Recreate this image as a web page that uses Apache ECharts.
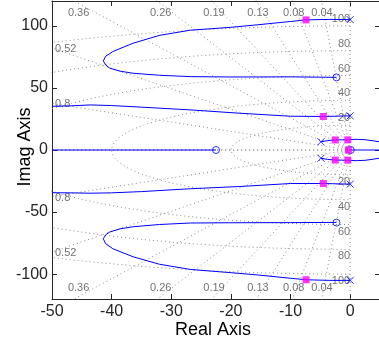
<!DOCTYPE html>
<html>
<head>
<meta charset="utf-8">
<script src="https://cdn.jsdelivr.net/npm/echarts@6/dist/echarts.min.js"></script>
<style>
  html, body { margin: 0; padding: 0; background: #fff; }
  #chart { width: 379px; height: 342px; }
</style>
</head>
<body>
<div id="chart"></div>
<script>
// axis ranges and tick labels
var xMin = -50, xMax = 5, yMin = -120, yMax = 120
var yTicks = [-100, -50, 0, 50, 100]

// sgrid: damping ratios and natural frequencies
var zetas = [0.04, 0.08, 0.13, 0.19, 0.26, 0.36, 0.52, 0.8]
var wns = [20, 40, 60, 80, 100]

// root locus branches (real part / imaginary part)
var upperLoopRe = [0, -3.4, -7.4, -10, -15.6, -20, -26.8, -32, -36.4, -39.8, -41, -41.4, -41, -40.3, -38.6, -36.4, -32, -26.8, -20, -10, -2.3]
var upperLoopIm = [105, 105.2, 104.8, 103.5, 100.8, 98.8, 96.5, 92.3, 86, 79.3, 75.5, 71.8, 68.5, 65.9, 63.5, 61.8, 60.2, 59.1, 58.8, 58.9, 58.5]
var lowerLoopRe = [0, -3.4, -7.4, -10, -15.6, -20, -26.8, -32, -36.4, -39.8, -41, -41.4, -41, -40.3, -38.6, -36.4, -32, -26.8, -20, -10, -2.3]
var lowerLoopIm = [-105, -105, -104.5, -103.3, -100.6, -98.8, -96.2, -92, -86, -79.5, -75.5, -71.5, -68.3, -66, -63.5, -61.8, -60, -58.8, -58.6, -58.5, -58.3]

var upperMidRe = [0, -4.5, -10, -18.5, -26.8, -35, -40, -43.6, -47, -50]
var upperMidIm = [27.5, 27, 27.2, 29.6, 32.3, 34.5, 35.8, 36.3, 35.5, 35.2]
var lowerMidRe = [0, -4.5, -10, -18.5, -26.8, -35, -40, -43.6, -47, -50]
var lowerMidIm = [-27.5, -27, -27, -29.4, -31.2, -33.5, -34.5, -34.8, -34.5, -34.4]

var upperInnerRe = [-4.9, -3.8, -2.5, -1.4, -0.4, 1, 2.5, 4, 5]
var upperInnerIm = [6.6, 7.6, 8.1, 8.2, 8.2, 8.6, 8.3, 7.3, 6.5]
var lowerInnerRe = [-4.9, -3.8, -2.5, -1.4, -0.4, 1, 2.5, 4, 5]
var lowerInnerIm = [-6.6, -7.6, -8.1, -8.2, -8.2, -8.6, -8.3, -7.3, -6.5]

var realLeftRe = [-50, -22.5]
var realLeftIm = [0, 0]
var realRightRe = [0, 5]
var realRightIm = [0, 0]

// open-loop poles (x), zeros (o), closed-loop poles (squares)
var poleRe = [0, 0, 0, 0, -4.9, -4.9]
var poleIm = [105, -105, 27.5, -27.5, 6.6, -6.6]
var zeroRe = [-22.5, -2.3, -2.3, 0.1]
var zeroIm = [0, 58.5, -58.5, 0]
var clRe = [-7.4, -7.4, -4.5, -4.5, -2.5, -2.5, -0.4, -0.4, -0.3]
var clIm = [104.8, -104.5, 27, -27, 8.1, -8.1, 8.2, -8.2, 0]

function pairs(re, im) {
  return re.map(function (v, i) { return [v, im[i]] })
}

var FONT = '"Liberation Sans", Arial, Helvetica, sans-serif'
var BLUE = '#0000ff'
var GRID_GRAY = '#8a8a8a'
var dotted = { color: GRID_GRAY, width: 1, type: [1, 3] }

var series = []

// damping rays, clipped by the grid
zetas.concat([1]).forEach(function (z) {
  var s = Math.sqrt(1 - z * z)
  var r = 400
  ;[1, -1].forEach(function (sign) {
    series.push({
      type: 'line', silent: true, symbol: 'none', z: 1,
      lineStyle: dotted,
      data: [[0, 0], [-z * r, sign * s * r]]
    })
  })
})
// imaginary axis
series.push({
  type: 'line', silent: true, symbol: 'none', z: 1, lineStyle: dotted,
  data: [[0, yMin], [0, yMax]]
})
// natural frequency arcs
wns.forEach(function (w) {
  var pts = []
  for (var a = 90; a <= 270; a += 1) {
    var t = a * Math.PI / 180
    pts.push([w * Math.cos(t), w * Math.sin(t)])
  }
  series.push({
    type: 'line', silent: true, symbol: 'none', z: 1, lineStyle: dotted, data: pts
  })
})

// grid labels
var gridLabels = []
zetas.forEach(function (z) {
  var slope = Math.sqrt(1 - z * z) / z
  var xTop = -118 / slope
  ;[1, -1].forEach(function (sign) {
    if (xTop > xMin) {
      gridLabels.push({
        name: String(z), value: [xTop, sign * 118],
        label: { align: 'center', verticalAlign: 'middle', offset: [0, sign > 0 ? 9 : -9] }
      })
    } else {
      gridLabels.push({
        name: String(z), value: [xMin, sign * -xMin * slope],
        label: { align: 'left', verticalAlign: 'middle', offset: [3, 1] }
      })
    }
  })
})
wns.forEach(function (w) {
  ;[1, -1].forEach(function (sign) {
    gridLabels.push({
      name: String(w), value: [0, sign * w],
      label: { align: 'right', verticalAlign: 'middle', offset: [0, sign > 0 ? -7 : 7] }
    })
  })
})
series.push({
  type: 'scatter', silent: true, symbolSize: 0, z: 2,
  label: {
    show: true, formatter: '{b}', fontFamily: FONT, fontSize: 11, color: '#4d4d4d',
    position: 'inside'
  },
  data: gridLabels
})

// locus branches
;[
  [upperLoopRe, upperLoopIm], [lowerLoopRe, lowerLoopIm],
  [upperMidRe, upperMidIm], [lowerMidRe, lowerMidIm],
  [upperInnerRe, upperInnerIm], [lowerInnerRe, lowerInnerIm],
  [realLeftRe, realLeftIm], [realRightRe, realRightIm]
].forEach(function (b) {
  series.push({
    type: 'line', silent: true, symbol: 'none', z: 3,
    lineStyle: { color: BLUE, width: 1 },
    data: pairs(b[0], b[1])
  })
})

series.push({
  type: 'scatter', silent: true, z: 4,
  symbol: 'path://M0,0L10,10M10,0L0,10', symbolSize: 7,
  itemStyle: { color: 'rgba(0,0,0,0)', borderColor: BLUE, borderWidth: 1 },
  data: pairs(poleRe, poleIm)
})
series.push({
  type: 'scatter', silent: true, z: 4,
  symbol: 'circle', symbolSize: 7,
  itemStyle: { color: 'rgba(0,0,0,0)', borderColor: BLUE, borderWidth: 1 },
  data: pairs(zeroRe, zeroIm)
})
series.push({
  type: 'scatter', silent: true, z: 5,
  symbol: 'rect', symbolSize: 7,
  itemStyle: { color: '#ff00ff' },
  data: pairs(clRe, clIm)
})

var axisLine = { show: true, onZero: false, lineStyle: { color: '#262626', width: 1 } }
var tickStyle = { inside: true, length: 5, lineStyle: { color: '#262626' } }

var chart = echarts.init(document.getElementById('chart'))
chart.setOption({
  animation: false,
  backgroundColor: '#fff',
  grid: { left: 52, top: 1, width: 328, height: 298, containLabel: false, outerBoundsMode: 'none' },
  graphic: [{
    type: 'text', x: 213, y: 330,
    style: { text: 'Real Axis', fontFamily: FONT, fontSize: 18, fill: '#000', align: 'center', verticalAlign: 'middle' }
  }, {
    type: 'text', x: 25, y: 147, rotation: Math.PI / 2,
    style: { text: 'Imag Axis', fontFamily: FONT, fontSize: 18, fill: '#000', align: 'center', verticalAlign: 'middle' }
  }],
  xAxis: [{
    type: 'value', min: xMin, max: xMax, interval: 10, position: 'bottom',
    axisLine: axisLine, axisTick: tickStyle, splitLine: { show: false },
    axisLabel: {
      fontFamily: FONT, fontSize: 16, color: '#262626', margin: 5,
      formatter: function (v) { return v > 0 ? '' : String(v) }
    }
  }, {
    type: 'value', min: xMin, max: xMax, interval: 10, position: 'top',
    axisLine: axisLine, axisTick: tickStyle, splitLine: { show: false },
    axisLabel: { show: false }
  }],
  yAxis: [{
    type: 'value', min: yMin, max: yMax, interval: 10, position: 'left',
    axisLine: axisLine, splitLine: { show: false },
    axisTick: Object.assign({ customValues: yTicks }, tickStyle),
    axisLabel: {
      customValues: yTicks, fontFamily: FONT, fontSize: 16, color: '#262626', margin: 4
    }
  }, {
    type: 'value', min: yMin, max: yMax, interval: 10, position: 'right',
    axisLine: axisLine, splitLine: { show: false },
    axisTick: Object.assign({ customValues: yTicks }, tickStyle),
    axisLabel: { show: false }
  }],
  series: series
})
</script>
</body>
</html>
